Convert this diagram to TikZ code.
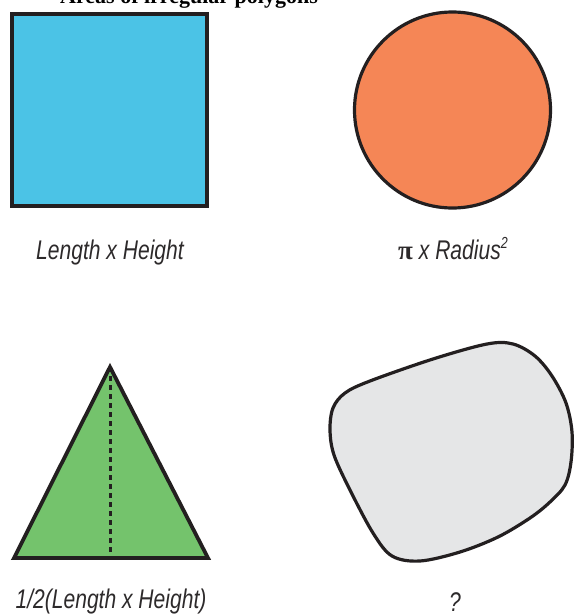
\documentclass[tikz,border=0pt]{standalone}
\usepackage{fontspec}
\setmainfont{Liberation Serif}
\newfontfamily\lblfont[FakeStretch=0.78]{Liberation Sans}
\definecolor{sqblue}{RGB}{75,195,230}
\definecolor{circorange}{RGB}{245,134,86}
\definecolor{trigreen}{RGB}{116,195,108}
\definecolor{blobgray}{RGB}{229,230,231}
\definecolor{inkdark}{RGB}{35,31,32}
\definecolor{labelgray}{RGB}{45,42,43}
\begin{document}
\begin{tikzpicture}[x=1pt,y=-1pt,
  outline/.style={draw=inkdark,line width=3.8pt,line join=miter},
  lbl/.style={font=\lblfont\itshape\fontsize{27}{30}\selectfont, inner sep=0pt, anchor=base, text=labelgray}]
\useasboundingbox (0,0) rectangle (574,616);
\clip (0,0) rectangle (574,616);
\node[font=\bfseries\fontsize{22}{24}\selectfont, anchor=base west, inner sep=0pt] (title) at (60,3) {Areas of irregular polygons};
% square
\draw[outline, fill=sqblue] (12,14) rectangle (207,206);
\node[lbl] (lsq) at (110,259) {Length x Height};
% circle
\draw[outline, fill=circorange, line width=3.2pt] (452.5,110) circle (98pt);
\node[lbl] (lci) at (453,259) {{\upshape\fontspec{Liberation Serif}\bfseries π} x Radius\raisebox{11pt}{\fontsize{16}{16}\selectfont 2}};
% triangle
\coordinate (apex) at (110,367);
\coordinate (basemid) at (110,558);
\draw[outline, fill=trigreen] (14,558) -- (208,558) -- (apex) -- cycle;
\draw[draw=inkdark, line width=3pt, dash pattern=on 5pt off 4pt] (apex) -- (basemid);
\node[lbl] (ltr) at (111,608) {1/2(Length x Height)};
% blob
\draw[outline, line width=3.2pt, fill=blobgray] plot[smooth cycle, tension=0.55] coordinates {
 (345,393) (370,381) (433,359) (487,344) (513,344) (535,356) (552,376) (566,403)
 (572,432) (571,462) (565,485) (550,502) (530,518) (498,537) (460,552) (420,561)
 (392,556) (373,533) (350,490) (334,455) (330,430) (333,408)};
\node[lbl] (lbl4) at (455,611) {?};
\end{tikzpicture}
\end{document}
